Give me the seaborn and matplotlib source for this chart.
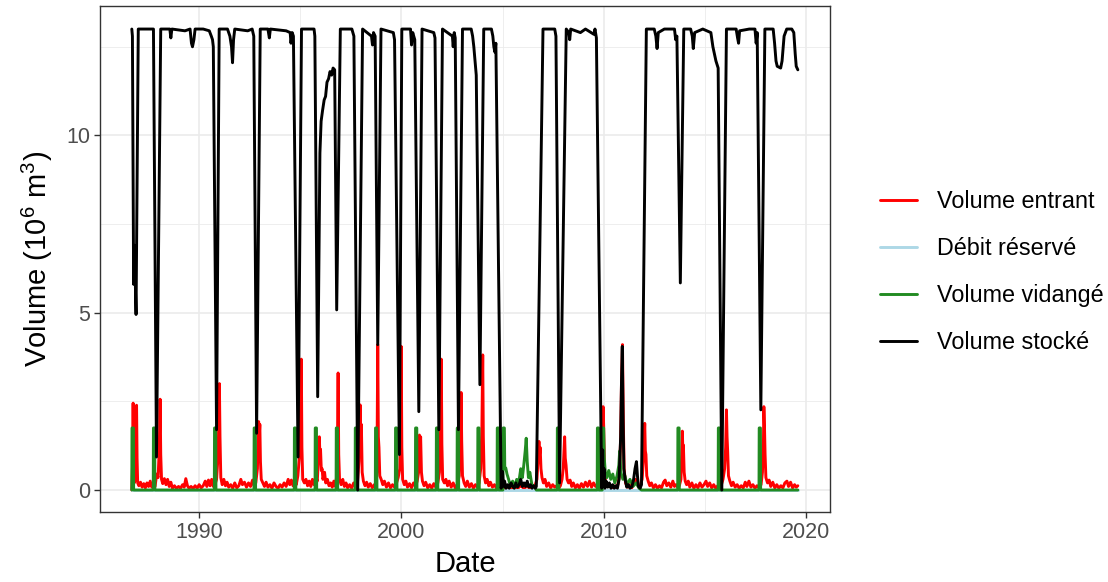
import pandas as pd
import matplotlib
matplotlib.use("Agg")
import matplotlib.pyplot as plt
import seaborn as sns

# Séries : (année décimale, volume en 10^6 m3)

volume_entrant = [
    (1986.67, 0.0), (1986.71, 0.8), (1986.735, 2.45), (1986.76, 1.0), (1986.79, 0.2), (1986.84, 0.3),
    (1986.88, 1.5), (1986.905, 2.39), (1986.93, 0.9), (1986.96, 0.2),
    (1987.02, 0.12), (1987.10, 0.22), (1987.18, 0.08), (1987.26, 0.18), (1987.34, 0.06), (1987.42, 0.2),
    (1987.50, 0.1), (1987.58, 0.25), (1987.66, 0.08), (1987.74, 0.15), (1987.82, 0.1), (1987.90, 0.45),
    (1987.97, 0.35), (1988.03, 1.2), (1988.07, 2.56), (1988.10, 1.0), (1988.14, 0.3),
    (1988.20, 0.18), (1988.28, 0.32), (1988.36, 0.15), (1988.44, 0.3), (1988.52, 0.1), (1988.60, 0.22),
    (1988.68, 0.05), (1988.78, 0.12), (1988.88, 0.04), (1988.98, 0.1), (1989.08, 0.05), (1989.18, 0.15),
    (1989.26, 0.08), (1989.34, 0.32), (1989.42, 0.12), (1989.50, 0.05), (1989.60, 0.1), (1989.70, 0.04),
    (1989.80, 0.12), (1989.90, 0.05), (1990.00, 0.15), (1990.10, 0.06), (1990.20, 0.12), (1990.30, 0.25),
    (1990.38, 0.1), (1990.46, 0.28), (1990.54, 0.12), (1990.62, 0.3), (1990.70, 0.1), (1990.78, 0.15),
    (1990.86, 0.3), (1990.94, 1.0), (1991.00, 3.0), (1991.03, 1.5), (1991.07, 0.35),
    (1991.14, 0.15), (1991.22, 0.3), (1991.30, 0.12), (1991.38, 0.22), (1991.46, 0.08), (1991.56, 0.15),
    (1991.66, 0.05), (1991.76, 0.2), (1991.86, 0.06), (1991.96, 0.12), (1992.06, 0.3), (1992.14, 0.15),
    (1992.24, 0.22), (1992.34, 0.08), (1992.44, 0.2), (1992.54, 0.1), (1992.64, 0.28), (1992.72, 0.12),
    (1992.80, 0.2), (1992.88, 0.6), (1992.94, 1.93), (1992.97, 1.5), (1993.00, 1.85), (1993.03, 0.8),
    (1993.07, 0.3),
    (1993.15, 0.2), (1993.23, 0.1), (1993.31, 0.22), (1993.40, 0.08), (1993.50, 0.15), (1993.60, 0.05),
    (1993.70, 0.2), (1993.80, 0.1), (1993.90, 0.05), (1994.00, 0.15), (1994.10, 0.08), (1994.20, 0.2),
    (1994.30, 0.1), (1994.40, 0.3), (1994.48, 0.15), (1994.56, 0.28), (1994.64, 0.12), (1994.72, 0.3),
    (1994.80, 0.15), (1994.88, 0.4), (1994.95, 0.9), (1995.00, 2.0), (1995.05, 3.69), (1995.08, 1.2),
    (1995.12, 0.3),
    (1995.20, 0.2), (1995.28, 0.3), (1995.36, 0.12), (1995.44, 0.25), (1995.52, 0.1), (1995.60, 0.3),
    (1995.68, 0.15), (1995.76, 0.35), (1995.84, 0.25), (1995.90, 0.9), (1995.94, 1.5), (1995.97, 1.0),
    (1996.00, 1.15), (1996.04, 0.55), (1996.08, 0.6), (1996.12, 0.3),
    (1996.20, 0.5), (1996.26, 0.2), (1996.34, 0.3), (1996.42, 0.12), (1996.50, 0.2), (1996.58, 0.08),
    (1996.66, 0.25), (1996.74, 0.1), (1996.80, 0.4), (1996.84, 1.5), (1996.87, 3.3), (1996.90, 1.0),
    (1996.94, 0.3),
    (1997.02, 0.15), (1997.10, 0.3), (1997.18, 0.1), (1997.26, 0.2), (1997.34, 0.06), (1997.44, 0.15),
    (1997.54, 0.05), (1997.64, 0.2), (1997.74, 0.08), (1997.82, 0.15), (1997.90, 0.8), (1997.96, 2.4),
    (1997.99, 1.3), (1998.02, 1.85), (1998.06, 0.5),
    (1998.12, 0.25), (1998.20, 0.12), (1998.28, 0.22), (1998.36, 0.08), (1998.46, 0.18), (1998.56, 0.06),
    (1998.66, 0.15), (1998.74, 0.1), (1998.79, 0.6), (1998.83, 4.1), (1998.86, 1.5), (1998.89, 1.2),
    (1998.93, 0.4),
    (1999.00, 0.3), (1999.08, 0.15), (1999.16, 0.25), (1999.26, 0.08), (1999.36, 0.2), (1999.46, 0.06),
    (1999.56, 0.15), (1999.66, 0.08), (1999.76, 0.2), (1999.84, 0.35), (1999.92, 0.6), (1999.96, 2.0),
    (1999.99, 4.05), (2000.02, 1.2), (2000.06, 0.3),
    (2000.14, 0.15), (2000.22, 0.25), (2000.30, 0.08), (2000.40, 0.18), (2000.50, 0.06), (2000.60, 0.2),
    (2000.70, 0.1), (2000.78, 0.25), (2000.85, 0.5), (2000.89, 1.55), (2000.92, 1.2), (2000.95, 1.5),
    (2000.99, 0.5), (2001.04, 0.25),
    (2001.12, 0.12), (2001.20, 0.22), (2001.30, 0.06), (2001.40, 0.15), (2001.50, 0.05), (2001.60, 0.18),
    (2001.70, 0.08), (2001.80, 0.2), (2001.88, 0.5), (2001.93, 1.5), (2001.97, 3.69), (2002.00, 1.3),
    (2002.04, 0.3),
    (2002.12, 0.2), (2002.20, 0.3), (2002.28, 0.12), (2002.36, 0.25), (2002.46, 0.08), (2002.56, 0.2),
    (2002.66, 0.06), (2002.76, 0.15), (2002.86, 0.4), (2002.92, 1.5), (2002.95, 2.75), (2002.98, 1.4),
    (2003.02, 0.4),
    (2003.10, 0.2), (2003.18, 0.1), (2003.26, 0.25), (2003.36, 0.08), (2003.46, 0.18), (2003.56, 0.05),
    (2003.66, 0.15), (2003.76, 0.08), (2003.84, 0.2), (2003.92, 0.6), (2003.98, 1.8), (2004.02, 3.81),
    (2004.05, 1.5), (2004.09, 0.4),
    (2004.16, 0.2), (2004.24, 0.3), (2004.32, 0.12), (2004.40, 0.22), (2004.50, 0.08), (2004.60, 0.15),
    (2004.70, 0.05), (2004.80, 0.12), (2004.90, 0.05), (2005.00, 0.1), (2005.15, 0.05), (2005.30, 0.1),
    (2005.45, 0.04), (2005.60, 0.1), (2005.75, 0.05), (2005.90, 0.12), (2006.05, 0.05), (2006.20, 0.1),
    (2006.35, 0.06), (2006.50, 0.1), (2006.62, 0.15), (2006.70, 0.3), (2006.76, 0.9), (2006.80, 1.37),
    (2006.83, 1.0), (2006.86, 1.2), (2006.90, 0.6), (2006.95, 0.35),
    (2007.02, 0.2), (2007.10, 0.3), (2007.18, 0.1), (2007.28, 0.2), (2007.38, 0.06), (2007.48, 0.15),
    (2007.58, 0.08), (2007.68, 0.12), (2007.78, 0.05), (2007.86, 0.12), (2007.94, 0.3), (2008.00, 0.6),
    (2008.04, 1.1), (2008.07, 1.5), (2008.10, 0.9), (2008.14, 0.7), (2008.19, 0.3),
    (2008.26, 0.2), (2008.34, 0.28), (2008.42, 0.1), (2008.50, 0.2), (2008.60, 0.06), (2008.70, 0.15),
    (2008.80, 0.05), (2008.90, 0.18), (2009.00, 0.08), (2009.10, 0.22), (2009.20, 0.1), (2009.30, 0.25),
    (2009.40, 0.08), (2009.50, 0.2), (2009.60, 0.1), (2009.70, 0.15), (2009.80, 0.2), (2009.88, 0.5),
    (2009.93, 1.6), (2009.97, 2.35), (2010.00, 1.8), (2010.04, 0.6),
    (2010.10, 0.2), (2010.20, 0.1), (2010.30, 0.15), (2010.40, 0.05), (2010.50, 0.12), (2010.60, 0.06),
    (2010.70, 0.15), (2010.78, 0.4), (2010.84, 1.5), (2010.88, 3.0), (2010.93, 4.1), (2010.97, 2.0),
    (2011.01, 0.6),
    (2011.08, 0.2), (2011.18, 0.08), (2011.28, 0.15), (2011.38, 0.05), (2011.48, 0.2), (2011.58, 0.3),
    (2011.66, 0.2), (2011.74, 0.08), (2011.82, 0.15), (2011.90, 0.3), (2011.96, 0.8), (2012.00, 1.4),
    (2012.03, 1.88), (2012.06, 1.1), (2012.09, 1.0), (2012.13, 0.4),
    (2012.20, 0.25), (2012.28, 0.12), (2012.36, 0.2), (2012.46, 0.06), (2012.56, 0.15), (2012.66, 0.05),
    (2012.76, 0.12), (2012.86, 0.06), (2012.96, 0.22), (2013.04, 0.28), (2013.12, 0.12), (2013.22, 0.2),
    (2013.32, 0.08), (2013.42, 0.25), (2013.50, 0.1), (2013.58, 0.15), (2013.66, 0.08), (2013.74, 0.12),
    (2013.82, 0.3), (2013.87, 1.2), (2013.89, 1.66), (2013.92, 1.0), (2013.94, 1.27), (2013.98, 0.5),
    (2014.03, 0.25),
    (2014.10, 0.15), (2014.18, 0.25), (2014.26, 0.08), (2014.36, 0.2), (2014.46, 0.05), (2014.56, 0.15),
    (2014.66, 0.06), (2014.76, 0.2), (2014.86, 0.08), (2014.96, 0.15), (2015.06, 0.25), (2015.14, 0.1),
    (2015.24, 0.2), (2015.34, 0.06), (2015.44, 0.15), (2015.54, 0.05), (2015.64, 0.12), (2015.74, 0.06),
    (2015.82, 0.15), (2015.90, 0.3), (2015.98, 0.6), (2016.03, 1.2), (2016.07, 2.26), (2016.10, 1.5),
    (2016.13, 1.1), (2016.17, 0.4),
    (2016.24, 0.25), (2016.32, 0.12), (2016.40, 0.22), (2016.50, 0.08), (2016.60, 0.15), (2016.70, 0.05),
    (2016.80, 0.12), (2016.90, 0.06), (2017.00, 0.22), (2017.08, 0.1), (2017.18, 0.25), (2017.28, 0.08),
    (2017.38, 0.15), (2017.48, 0.05), (2017.58, 0.12), (2017.68, 0.06), (2017.78, 0.15), (2017.85, 0.5),
    (2017.90, 1.4), (2017.92, 2.35), (2017.95, 1.8), (2017.98, 1.0), (2018.02, 0.35),
    (2018.10, 0.2), (2018.18, 0.28), (2018.26, 0.1), (2018.36, 0.22), (2018.46, 0.06), (2018.56, 0.15),
    (2018.66, 0.05), (2018.76, 0.12), (2018.86, 0.06), (2018.96, 0.2), (2019.06, 0.25), (2019.14, 0.1),
    (2019.24, 0.22), (2019.34, 0.06), (2019.44, 0.15), (2019.52, 0.08), (2019.60, 0.12),
]

debit_reserve = [(1986.67, 0.01), (2019.60, 0.01)]

volume_vidange = [
    (1986.67, 0.0), (1986.68, 1.75), (1986.75, 1.75), (1986.76, 0.0),
    (1987.73, 0.0), (1987.74, 1.75), (1987.80, 1.75), (1987.81, 0.0),
    (1990.75, 0.0), (1990.76, 1.75), (1990.82, 1.75), (1990.83, 0.0),
    (1992.71, 0.0), (1992.72, 1.75), (1992.78, 1.75), (1992.79, 0.0),
    (1994.70, 0.0), (1994.71, 1.75), (1994.77, 1.75), (1994.78, 0.0),
    (1995.73, 0.0), (1995.74, 1.75), (1995.80, 1.75), (1995.81, 0.0),
    (1996.77, 0.0), (1996.78, 1.75), (1996.84, 1.75), (1996.85, 0.0),
    (1997.71, 0.0), (1997.72, 1.75), (1997.78, 1.75), (1997.79, 0.0),
    (1998.71, 0.0), (1998.72, 1.75), (1998.78, 1.75), (1998.79, 0.0),
    (1999.70, 0.0), (1999.71, 1.75), (1999.77, 1.75), (1999.78, 0.0),
    (2000.69, 0.0), (2000.70, 1.75), (2000.76, 1.75), (2000.77, 0.0),
    (2001.72, 0.0), (2001.73, 1.75), (2001.79, 1.75), (2001.80, 0.0),
    (2002.75, 0.0), (2002.76, 1.75), (2002.82, 1.75), (2002.83, 0.0),
    (2003.77, 0.0), (2003.78, 1.75), (2003.84, 1.75), (2003.85, 0.0),
    (2004.73, 0.0), (2004.74, 1.75), (2004.80, 1.75), (2004.81, 0.0),
    (2005.02, 0.0), (2005.03, 1.75), (2005.09, 1.75), (2005.11, 0.6),
    (2005.16, 0.62), (2005.22, 0.45), (2005.30, 0.3), (2005.40, 0.1), (2005.50, 0.25), (2005.60, 0.08),
    (2005.70, 0.3), (2005.80, 0.2), (2005.90, 0.6), (2005.98, 0.35), (2006.05, 0.7), (2006.12, 1.1),
    (2006.17, 1.46), (2006.22, 0.8), (2006.28, 0.35), (2006.35, 0.5), (2006.45, 0.15), (2006.58, 0.1),
    (2006.67, 0.0),
    (2007.70, 0.0), (2007.71, 1.75), (2007.77, 1.75), (2007.78, 0.0),
    (2009.68, 0.0), (2009.69, 1.75), (2009.75, 1.75), (2009.76, 0.0),
    (2009.93, 0.0), (2009.94, 1.75), (2010.00, 1.75), (2010.03, 0.9),
    (2010.08, 0.5), (2010.16, 0.35), (2010.25, 0.55), (2010.35, 0.3), (2010.45, 0.45), (2010.55, 0.2),
    (2010.66, 0.4), (2010.75, 0.7), (2010.79, 1.1), (2010.85, 0.5), (2010.95, 0.3), (2011.05, 0.4),
    (2011.15, 0.15), (2011.30, 0.3), (2011.45, 0.1), (2011.60, 0.2), (2011.75, 0.05), (2011.87, 0.0),
    (2013.66, 0.0), (2013.67, 1.75), (2013.73, 1.75), (2013.74, 0.0),
    (2015.66, 0.0), (2015.67, 1.75), (2015.73, 1.75), (2015.74, 0.0),
    (2017.68, 0.0), (2017.69, 1.75), (2017.75, 1.75), (2017.76, 0.0),
    (2019.60, 0.0),
]

volume_stocke = [
    (1986.67, 13.0), (1986.70, 12.8), (1986.76, 5.8), (1986.80, 6.9), (1986.88, 4.95), (1986.99, 13.0),
    (1987.30, 13.0), (1987.74, 13.0), (1987.89, 0.93), (1988.10, 13.0),
    (1988.55, 13.0), (1988.60, 12.75), (1988.65, 13.0), (1989.30, 12.95), (1989.55, 13.0), (1989.62, 12.6),
    (1989.67, 12.5), (1989.74, 12.7), (1989.80, 13.0), (1990.20, 13.0), (1990.50, 12.95), (1990.60, 12.8),
    (1990.66, 12.7), (1990.70, 12.5), (1990.86, 1.7), (1990.99, 13.0),
    (1991.40, 13.0), (1991.52, 12.8), (1991.60, 12.5), (1991.65, 12.05), (1991.70, 12.7), (1991.76, 13.0),
    (1992.40, 12.95), (1992.62, 13.0), (1992.70, 12.8), (1992.84, 1.6), (1993.02, 13.0),
    (1993.40, 13.0), (1993.47, 12.75), (1993.52, 13.0), (1994.30, 12.95), (1994.50, 12.9), (1994.54, 12.6),
    (1994.60, 12.9), (1994.66, 12.8), (1994.89, 0.93), (1995.06, 13.0),
    (1995.68, 13.0), (1995.72, 12.8), (1995.86, 2.63), (1995.92, 6.5), (1995.97, 9.5), (1996.03, 10.4),
    (1996.10, 10.7), (1996.18, 11.0), (1996.25, 11.1), (1996.32, 11.5), (1996.40, 11.6), (1996.47, 11.8),
    (1996.55, 11.7), (1996.62, 11.9), (1996.70, 11.85), (1996.80, 5.08), (1996.98, 13.0),
    (1997.55, 13.0), (1997.60, 12.9), (1997.65, 12.8), (1997.84, 0.0), (1998.08, 13.0),
    (1998.52, 12.8), (1998.57, 12.55), (1998.62, 12.9), (1998.70, 12.8), (1998.83, 4.1), (1998.99, 13.0),
    (1999.60, 12.9), (1999.66, 12.7), (1999.90, 1.0), (2000.02, 13.0),
    (2000.45, 13.0), (2000.50, 12.55), (2000.56, 12.9), (2000.66, 12.7), (2000.86, 2.21), (2001.02, 13.0),
    (2001.60, 12.9), (2001.66, 12.75), (2001.85, 1.7), (2002.03, 13.0),
    (2002.52, 12.8), (2002.56, 12.5), (2002.61, 12.9), (2002.66, 12.75), (2002.82, 1.7), (2003.02, 13.0),
    (2003.45, 13.0), (2003.52, 12.8), (2003.58, 12.5), (2003.64, 12.1), (2003.70, 11.7), (2003.88, 2.97),
    (2004.07, 13.0),
    (2004.45, 13.0), (2004.52, 12.8), (2004.57, 12.5), (2004.62, 12.35), (2004.67, 12.6), (2004.93, 0.05),
    (2004.96, 0.15), (2005.00, 0.52), (2005.04, 0.1), (2005.10, 0.25), (2005.17, 0.05), (2005.25, 0.15),
    (2005.33, 0.05), (2005.42, 0.2), (2005.50, 0.1), (2005.58, 0.05), (2005.66, 0.2), (2005.74, 0.08),
    (2005.82, 0.15), (2005.90, 0.3), (2005.98, 0.1), (2006.06, 0.2), (2006.14, 0.1), (2006.22, 0.25),
    (2006.30, 0.08), (2006.38, 0.15), (2006.46, 0.05), (2006.54, 0.12), (2006.62, 0.05), (2006.67, 0.1),
    (2007.00, 13.0),
    (2007.58, 13.0), (2007.64, 12.8), (2007.82, 0.2), (2008.15, 13.0), (2008.28, 12.9), (2008.32, 12.7),
    (2008.37, 13.0), (2008.85, 12.9), (2009.10, 13.0), (2009.52, 12.85), (2009.57, 13.0), (2009.64, 12.75),
    (2009.90, 0.05),
    (2009.93, 0.3), (2009.95, 1.13), (2009.98, 0.2), (2010.02, 0.6), (2010.06, 0.05), (2010.12, 0.25),
    (2010.20, 0.08), (2010.28, 0.2), (2010.36, 0.05), (2010.44, 0.15), (2010.52, 0.05), (2010.60, 0.12),
    (2010.68, 0.05), (2010.76, 0.3), (2010.84, 1.5), (2010.88, 3.0), (2010.92, 4.05), (2010.96, 2.0),
    (2011.00, 0.6), (2011.06, 0.3), (2011.14, 0.08), (2011.22, 0.15), (2011.30, 0.05), (2011.40, 0.1),
    (2011.48, 0.3), (2011.55, 0.6), (2011.62, 0.8), (2011.67, 0.4), (2011.72, 0.1), (2011.80, 0.05),
    (2011.87, 0.15), (2012.11, 13.0),
    (2012.50, 13.0), (2012.58, 12.8), (2012.64, 12.45), (2012.70, 12.9), (2013.00, 13.0), (2013.50, 13.0),
    (2013.56, 12.7), (2013.62, 12.8), (2013.79, 5.84), (2013.96, 13.0),
    (2014.30, 13.0), (2014.38, 12.8), (2014.43, 12.45), (2014.50, 12.9), (2014.90, 13.0), (2015.30, 12.9),
    (2015.40, 12.5), (2015.55, 12.1), (2015.66, 11.9), (2015.84, 0.0), (2016.07, 13.0),
    (2016.55, 13.0), (2016.62, 12.75), (2016.67, 12.6), (2016.72, 12.95), (2017.20, 13.0), (2017.48, 13.0),
    (2017.54, 12.6), (2017.59, 12.9), (2017.77, 2.26), (2017.97, 13.0),
    (2018.38, 13.0), (2018.45, 12.6), (2018.52, 12.1), (2018.58, 11.95), (2018.75, 11.9), (2018.82, 12.1),
    (2018.92, 12.8), (2019.05, 13.0), (2019.30, 13.0), (2019.40, 12.9), (2019.47, 12.3), (2019.52, 11.95),
    (2019.60, 11.85),
]

ordre = ["Volume entrant", "Débit réservé", "Volume vidangé", "Volume stocké"]
couleurs = ["#FF0000", "#ADD8E6", "#228B22", "#000000"]
y_ticks = [0, 5, 10]
x_ticks = [1990, 2000, 2010, 2020]


def to_frame(points, serie):
    dates, vals = zip(*points)
    return pd.DataFrame({"date": dates, "volume": vals, "serie": serie})


df = pd.concat([
    to_frame(volume_entrant, ordre[0]),
    to_frame(debit_reserve, ordre[1]),
    to_frame(volume_vidange, ordre[2]),
    to_frame(volume_stocke, ordre[3]),
], ignore_index=True)

sns.set_style("white")
plt.rcParams["font.family"] = ["Liberation Sans", "DejaVu Sans"]
plt.rcParams["mathtext.default"] = "regular"

fig = plt.figure(figsize=(11.08, 5.82), dpi=100)
ax = fig.add_axes([0.0903, 0.1203, 0.6588, 0.8694])

sns.lineplot(
    data=df, x="date", y="volume", hue="serie", hue_order=ordre,
    palette=dict(zip(ordre, couleurs)), estimator=None, sort=False,
    linewidth=2.1, ax=ax,
)

ax.set_xlim(1985.10, 2021.19)
ax.set_ylim(-0.62, 13.65)
ax.set_xticks(x_ticks)
ax.set_yticks(y_ticks)
ax.set_xticks([1995, 2005, 2015], minor=True)
ax.set_yticks([2.5, 7.5, 12.5], minor=True)
ax.grid(which="major", color="#EBEBEB", linewidth=1.2)
ax.grid(which="minor", color="#EBEBEB", linewidth=0.6)
ax.set_axisbelow(True)
for s in ax.spines.values():
    s.set_color("#333333")
    s.set_linewidth(1.0)
ax.tick_params(which="major", length=4, width=1, color="#333333",
               labelcolor="#4D4D4D", labelsize=15.5, pad=3)
ax.tick_params(which="minor", length=0)
ax.tick_params(axis="x", bottom=True)
ax.tick_params(axis="y", left=True)

ax.set_xlabel("Date", fontsize=21, color="black", labelpad=5)
ax.set_ylabel("Volume (10$^{6}$ m$^{3}$)", fontsize=21, color="black", labelpad=8)

handles, labels = ax.get_legend_handles_labels()
for h in handles:
    h.set_linewidth(2.1)
leg = ax.legend(handles, labels, loc="center left", bbox_to_anchor=(1.068, 0.474),
                frameon=False, fontsize=16.8, handlelength=1.6, handletextpad=0.85,
                labelspacing=1.02, borderpad=0, borderaxespad=0)
for t in leg.get_texts():
    t.set_color("black")

fig.savefig("out.png", dpi=100)
